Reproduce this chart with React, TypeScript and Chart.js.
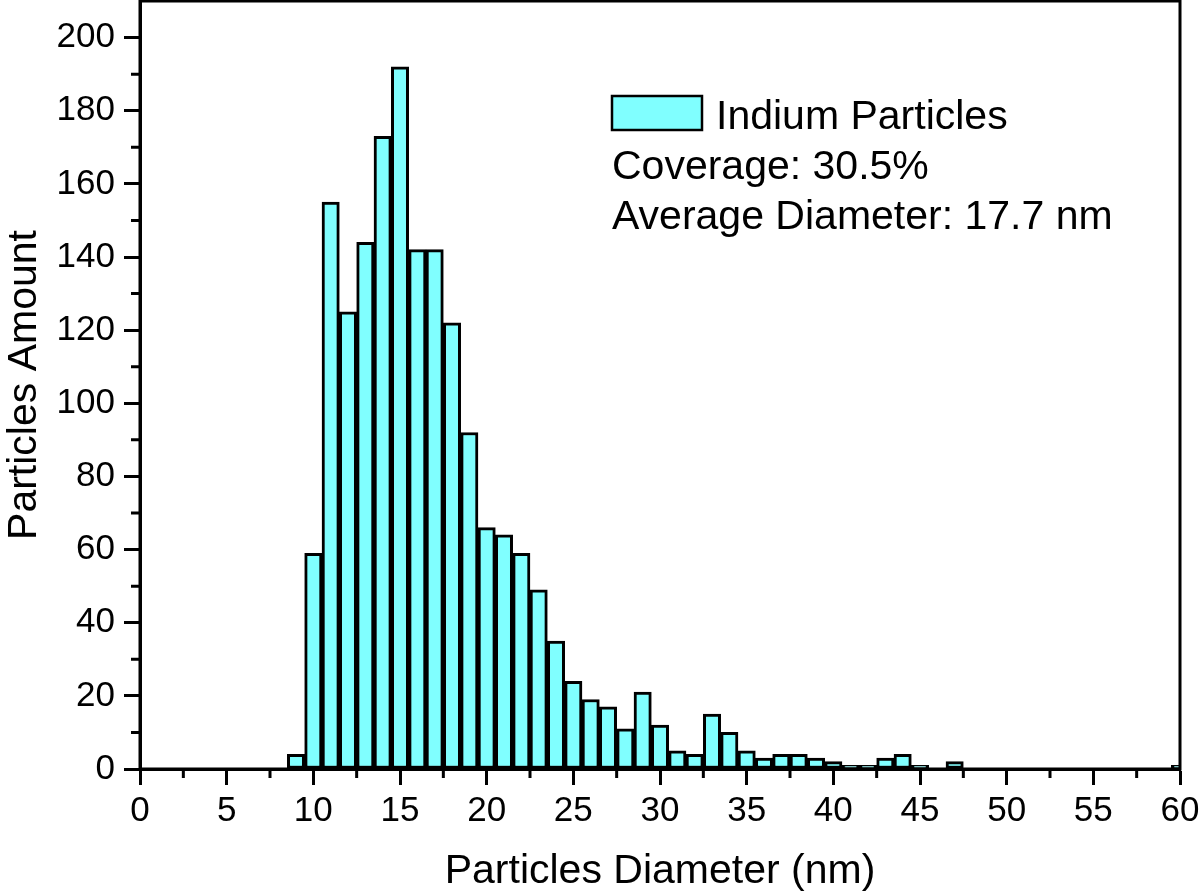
import { useEffect, useRef } from 'react';
import { Chart, registerables } from 'chart.js';

Chart.register(...registerables);

// Bin centres (nm) and particle counts per 1-nm bin
const diameters = [9, 10, 11, 12, 13, 14, 15, 16, 17, 18, 19, 20, 21, 22, 23, 24, 25, 26, 27, 28, 29, 30, 31, 32, 33, 34, 35, 36, 37, 38, 39, 40, 41, 42, 43, 44, 45, 47, 60];
const counts = [4, 59, 155, 125, 144, 173, 192, 142, 142, 122, 92, 66, 64, 59, 49, 35, 24, 19, 17, 11, 21, 12, 5, 4, 15, 10, 5, 3, 4, 4, 3, 2, 1, 1, 3, 4, 1, 2, 1];

const xTicks = [0, 5, 10, 15, 20, 25, 30, 35, 40, 45, 50, 55, 60];
const yTicks = [0, 20, 40, 60, 80, 100, 120, 140, 160, 180, 200];
const xMinorTicks = [2.5, 7.5, 12.5, 17.5, 22.5, 27.5, 32.5, 37.5, 42.5, 47.5, 52.5, 57.5];
const yMinorTicks = [10, 30, 50, 70, 90, 110, 130, 150, 170, 190];

const seriesLabel = 'Indium Particles';
const notes = ['Coverage: 30.5%', 'Average Diameter: 17.7 nm'];
const xTitle = 'Particles Diameter (nm)';
const yTitle = 'Particles Amount';

const FONT = '"Liberation Sans", Arial, Helvetica, sans-serif';
const FILL = '#80FFFF';

const framePlugin = {
  id: 'frameAndExtras',
  afterDatasetsDraw(chart: any) {
    const { ctx, chartArea: a, scales } = chart;
    ctx.save();
    ctx.strokeStyle = '#000';
    ctx.lineWidth = 3;
    ctx.strokeRect(a.left, a.top, a.right - a.left, a.bottom - a.top);
    ctx.beginPath();
    for (const v of yMinorTicks) {
      const y = scales.y.getPixelForValue(v);
      ctx.moveTo(a.left - 9, y);
      ctx.lineTo(a.left, y);
    }
    for (const v of xMinorTicks) {
      const x = scales.x.getPixelForValue(v);
      ctx.moveTo(x, a.bottom);
      ctx.lineTo(x, a.bottom + 9);
    }
    ctx.stroke();
    // legend + notes
    const lx = a.left + 472;
    const ly = a.top + 95;
    ctx.fillStyle = FILL;
    ctx.fillRect(lx, ly, 90, 34);
    ctx.lineWidth = 2.5;
    ctx.strokeRect(lx, ly, 90, 34);
    ctx.fillStyle = '#000';
    ctx.font = `41px ${FONT}`;
    ctx.textBaseline = 'alphabetic';
    ctx.textAlign = 'left';
    ctx.fillText(seriesLabel, lx + 104, ly + 33);
    ctx.fillText(notes[0], lx, ly + 83);
    ctx.fillText(notes[1], lx, ly + 133);
    ctx.restore();
  },
};

export default function App() {
  const ref = useRef<HTMLCanvasElement | null>(null);
  useEffect(() => {
    if (!ref.current) return;
    const chart = new Chart(ref.current, {
      type: 'bar',
      data: {
        datasets: [
          {
            label: seriesLabel,
            data: diameters.map((d, i) => ({ x: d, y: counts[i] })),
            backgroundColor: FILL,
            borderColor: '#000',
            borderWidth: 3,
            borderSkipped: false,
            barPercentage: 1,
            categoryPercentage: 1,
            clip: 0,
          } as any,
        ],
      },
      options: {
        animation: false,
        responsive: false,
        devicePixelRatio: 1,
        layout: { padding: { top: 1, right: 20, left: 0, bottom: 0 } },
        plugins: { legend: { display: false }, tooltip: { enabled: false } },
        scales: {
          x: {
            type: 'linear',
            min: 0,
            max: 60,
            offset: false,
            grid: { display: true, drawOnChartArea: false, offset: false, tickLength: 16, tickWidth: 3, tickColor: '#000' },
            border: { display: true, color: '#000', width: 3 },
            ticks: { color: '#000', font: { family: FONT, size: 35 }, padding: 5, maxRotation: 0, autoSkip: false },
            afterBuildTicks: (s: any) => { s.ticks = xTicks.map((v) => ({ value: v })); },
            title: { display: true, text: xTitle, color: '#000', font: { family: FONT, size: 41 }, padding: { top: 0, bottom: 0 } },
            afterFit: (s: any) => { s.height = 127; s.paddingLeft = 0; s.paddingRight = 0; },
          },
          y: {
            type: 'linear',
            min: 0,
            max: 210,
            grid: { display: true, drawOnChartArea: false, tickLength: 16, tickWidth: 3, tickColor: '#000' },
            border: { display: true, color: '#000', width: 3 },
            ticks: { color: '#000', font: { family: FONT, size: 35 }, padding: 9, autoSkip: false },
            afterBuildTicks: (s: any) => { s.ticks = yTicks.map((v) => ({ value: v })); },
            title: { display: true, text: yTitle, color: '#000', font: { family: FONT, size: 41 }, padding: { top: 0, bottom: 0 } },
            afterFit: (s: any) => { s.width = 140; s.paddingTop = 0; s.paddingBottom = 0; },
          },
        },
      } as any,
      plugins: [framePlugin],
    });
    return () => chart.destroy();
  }, []);
  return (
    <div style={{ position: 'fixed', left: 0, top: 0, width: 1200, height: 896, background: '#fff' }}>
      <canvas ref={ref} width={1200} height={896} style={{ width: 1200, height: 896, display: 'block' }} />
    </div>
  );
}
